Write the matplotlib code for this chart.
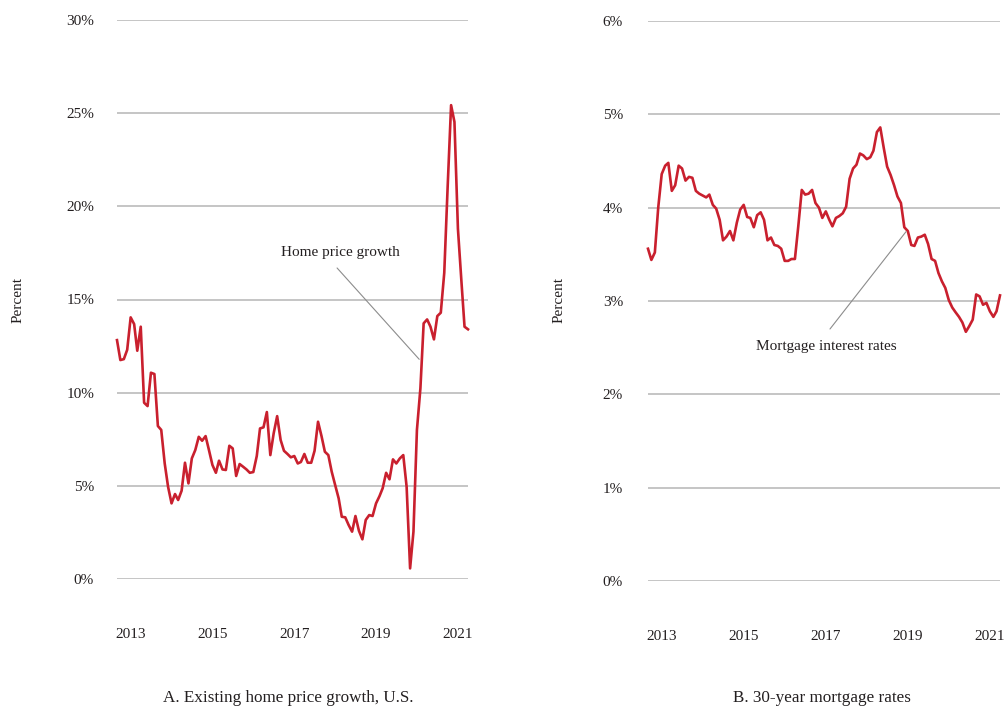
import matplotlib
matplotlib.use("Agg")
import matplotlib.pyplot as plt
import pandas as pd

# ---- data (monthly, Sep 2012 onward) ----
start_month = "2012-09-01"

home_price_growth = [
    12.82, 11.75, 11.80, 12.30, 14.04, 13.68, 12.25, 13.54, 9.46, 9.28,
    11.07, 11.00, 8.21, 8.00, 6.20, 4.95, 4.06, 4.56, 4.24, 4.74,
    6.24, 5.13, 6.47, 6.92, 7.63, 7.42, 7.67, 6.92, 6.12, 5.70,
    6.35, 5.88, 5.85, 7.15, 7.01, 5.53, 6.17, 6.03, 5.88, 5.70,
    5.74, 6.60, 8.08, 8.14, 8.96, 6.65, 7.82, 8.74, 7.46, 6.88,
    6.71, 6.53, 6.60, 6.20, 6.28, 6.71, 6.24, 6.24, 6.88, 8.44,
    7.67, 6.83, 6.65, 5.76, 5.04, 4.33, 3.34, 3.31, 2.90, 2.54,
    3.38, 2.59, 2.13, 3.17, 3.43, 3.38, 4.06, 4.45, 4.87, 5.70,
    5.35, 6.42, 6.20, 6.47, 6.65, 4.95, 0.57, 2.54, 8.00, 10.23,
    13.72, 13.93, 13.54, 12.86, 14.11, 14.29, 16.43, 21.00, 25.43, 24.53,
    18.80, 16.00, 13.54, 13.40,
]

mortgage_rates = [
    3.56, 3.44, 3.52, 4.00, 4.36, 4.45, 4.48, 4.18, 4.24, 4.45,
    4.42, 4.29, 4.33, 4.32, 4.18, 4.15, 4.13, 4.11, 4.14, 4.03,
    3.99, 3.87, 3.65, 3.69, 3.75, 3.65, 3.84, 3.98, 4.03, 3.90,
    3.89, 3.79, 3.92, 3.95, 3.87, 3.65, 3.68, 3.60, 3.59, 3.56,
    3.43, 3.43, 3.45, 3.45, 3.80, 4.19, 4.14, 4.15, 4.19, 4.05,
    4.00, 3.89, 3.96, 3.87, 3.80, 3.89, 3.91, 3.94, 4.01, 4.31,
    4.42, 4.46, 4.58, 4.56, 4.52, 4.54, 4.61, 4.81, 4.86, 4.64,
    4.44, 4.35, 4.24, 4.12, 4.05, 3.79, 3.75, 3.60, 3.59, 3.68,
    3.69, 3.71, 3.61, 3.45, 3.43, 3.30, 3.21, 3.14, 3.01, 2.93,
    2.88, 2.83, 2.77, 2.67, 2.73, 2.80, 3.07, 3.05, 2.96, 2.98,
    2.89, 2.83, 2.89, 3.06,
]

tick_years = [2013, 2015, 2017, 2019, 2021]
left_yticks = [0, 5, 10, 15, 20, 25, 30]
right_yticks = [0, 1, 2, 3, 4, 5, 6]

titles = ["A. Existing home price growth, U.S.", "B. 30-year mortgage rates"]
annotations = ["Home price growth", "Mortgage interest rates"]

# ---- style ----
plt.rcParams["font.family"] = ["Liberation Serif", "DejaVu Serif"]
RED = "#c9202e"
GRID = "#b5b5b5"
TXT = "#231f20"

fig = plt.figure(figsize=(10.08, 7.06), dpi=100)
ax1 = fig.add_axes([117 / 1008, 127 / 706, 351 / 1008, 559 / 706])
ax2 = fig.add_axes([648 / 1008, 125 / 706, 352 / 1008, 560 / 706])

dates1 = pd.date_range(start_month, periods=len(home_price_growth), freq="MS")
dates2 = pd.date_range(start_month, periods=len(mortgage_rates), freq="MS")
tick_dates = pd.to_datetime([f"{y}-01-01" for y in tick_years])


def style(ax, dates, yticks, ypad):
    ax.set_xlim(dates[0], dates[-1])
    ax.set_ylim(yticks[0], yticks[-1])
    ax.set_yticks(yticks)
    ax.set_yticklabels([f"{v}%" for v in yticks])
    ax.set_xticks(tick_dates)
    ax.set_xticklabels([str(y) for y in tick_years])
    for s in ax.spines.values():
        s.set_visible(False)
    ax.grid(axis="y", color=GRID, lw=1.1)
    ax.set_axisbelow(True)
    ax.tick_params(axis="both", length=0, labelsize=11, colors=TXT)
    ax.tick_params(axis="y", pad=ypad)
    ax.tick_params(axis="x", pad=35.5)


ax1.plot(dates1, home_price_growth, color=RED, lw=1.9, clip_on=False, zorder=3)
style(ax1, dates1, left_yticks, 16.5)
ax2.plot(dates2, mortgage_rates, color=RED, lw=1.9, clip_on=False, zorder=3)
style(ax2, dates2, right_yticks, 18)

# y-axis labels
fig.text(18.5 / 1008, 1 - 300 / 706, "Percent", rotation=90, ha="center",
         va="center", fontsize=11, color=TXT)
fig.text(559 / 1008, 1 - 300 / 706, "Percent", rotation=90, ha="center",
         va="center", fontsize=11, color=TXT)

# panel titles
fig.text(288 / 1008, 1 - 702 / 706, titles[0], ha="center", va="baseline",
         fontsize=12.3, color=TXT)
fig.text(822 / 1008, 1 - 702 / 706, titles[1], ha="center", va="baseline",
         fontsize=12.3, color=TXT)

# annotations
ax1.text(0.6355, 0.5784, annotations[0], transform=ax1.transAxes, ha="center",
         va="baseline", fontsize=11, color=TXT)
ax1.annotate("", xy=(0.861, 0.393), xycoords="axes fraction",
             xytext=(0.627, 0.5564), textcoords="axes fraction",
             arrowprops=dict(arrowstyle="-", color="#8c8c8c", lw=0.8,
                             shrinkA=0, shrinkB=0))

ax2.text(0.5057, 0.413, annotations[1], transform=ax2.transAxes, ha="center",
         va="baseline", fontsize=11, color=TXT)
ax2.annotate("", xy=(0.733, 0.6238), xycoords="axes fraction",
             xytext=(0.517, 0.45), textcoords="axes fraction",
             arrowprops=dict(arrowstyle="-", color="#8c8c8c", lw=0.8,
                             shrinkA=0, shrinkB=0))

fig.savefig("out.png", dpi=100, facecolor="white")
